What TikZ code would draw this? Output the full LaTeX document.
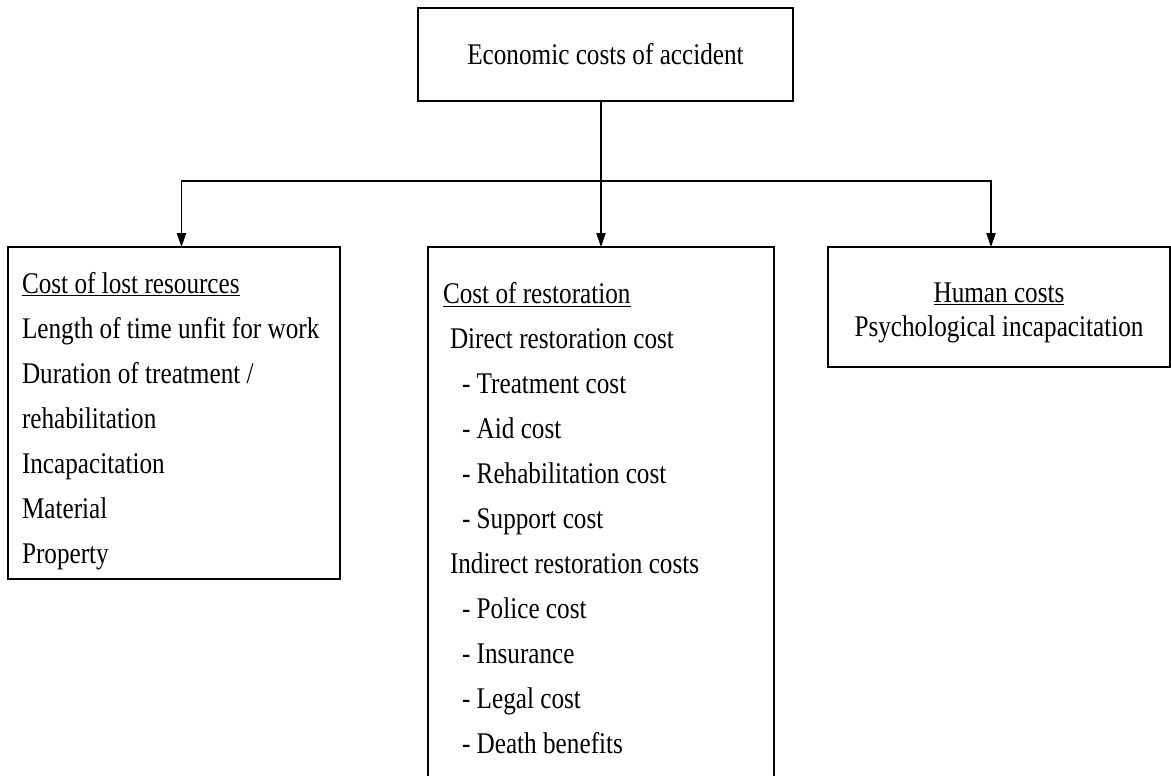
\documentclass[tikz,border=0pt]{standalone}
\usepackage{fontspec}
\setmainfont{Liberation Serif}[FakeStretch=0.84]
\usetikzlibrary{arrows.meta,positioning}

\begin{document}
\begin{tikzpicture}[x=0.75pt, y=0.75pt,
		costbox/.style={draw, line width=0.8pt, inner ysep=0pt, outer sep=0pt, font=\fontsize{22.5pt}{33.75pt}\selectfont},
		flow/.style={line width=0.8pt, -{Triangle[length=10.5pt, width=7pt]}}]
			\clip (0,0) rectangle (1171,-775);
			
			%top box
			\node[costbox, minimum width=281.25pt, minimum height=69.75pt] (econ) at (605.5,-54.5){Economic costs of accident};
			
			%the three cost groups
			\node[costbox, anchor=north west, align=flush left, text width=228pt, inner xsep=10.5pt, minimum height=249pt] (lost) at (8,-247){\rule{0pt}{27.4pt}\underline{Cost of lost resources}\\
				Length of time unfit for work\\
				Duration of treatment /\\
				rehabilitation\\
				Incapacitation\\
				Material\\
				Property};
			\node[costbox, anchor=north west, align=flush left, text width=237pt, inner xsep=11.25pt, minimum height=407.25pt] (restore) at (428,-247){\underline{Cost of restoration}\\
				\hspace*{5.25pt}Direct restoration cost\\
				\hspace*{14.25pt}- Treatment cost\\
				\hspace*{14.25pt}- Aid cost\\
				\hspace*{14.25pt}- Rehabilitation cost\\
				\hspace*{14.25pt}- Support cost\\
				\hspace*{5.25pt}Indirect restoration costs\\
				\hspace*{14.25pt}- Police cost\\
				\hspace*{14.25pt}- Insurance\\
				\hspace*{14.25pt}- Legal cost\\
				\hspace*{14.25pt}- Death benefits};
			\node[costbox, anchor=north west, align=flush center, minimum width=256.5pt, minimum height=90pt, font=\fontsize{22.5pt}{25.5pt}\selectfont] (human) at (828,-247){\rule{0pt}{23pt}\underline{Human costs}\\
				Psychological incapacitation};
			
			%connectors
			\coordinate (split) at (restore.north |- 0,-181);
			\draw[flow] (econ.south -| restore.north) -- (restore.north);
			\draw[flow] (split) -| ([xshift=5.6pt]lost.north);
			\draw[flow] (split) -| ([xshift=-6pt]human.north);
		\end{tikzpicture}
\end{document}
